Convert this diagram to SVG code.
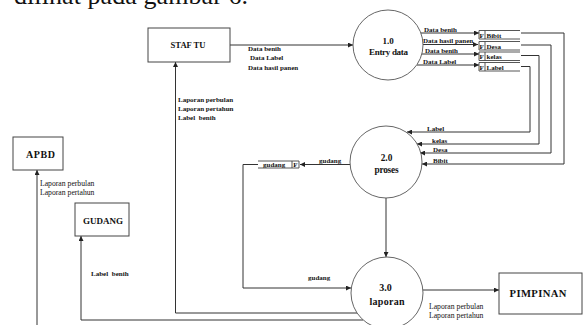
<svg xmlns="http://www.w3.org/2000/svg" width="584" height="325" viewBox="0 0 584 325">
  <style>
    .box { fill: #fff; stroke: #444; stroke-width: 1; }
    .proc { fill: #fff; stroke: #555; stroke-width: 0.9; }
    .flow { fill: none; stroke: #333; stroke-width: 1; }
    .store { fill: none; stroke: #444; stroke-width: 0.9; }
    .t { font-family: "Liberation Serif", "Times New Roman", serif; fill: #111; }
    .lbl { font-size: 7px; font-weight: bold; }
    .lblr { font-size: 7.7px; }
    .name { font-weight: bold; text-anchor: middle; }
    .pt { font-weight: bold; text-anchor: middle; }
  </style>
  <defs>
    <marker id="arrow" markerUnits="userSpaceOnUse" markerWidth="6" markerHeight="5" refX="5" refY="2.5" orient="auto">
      <path d="M0,0 L5,2.5 L0,5 z" fill="#222"/>
    </marker>
  </defs>
  <rect width="584" height="325" fill="#fff"/>

  <!-- paragraph line above the figure -->
  <text class="t" x="14" y="4" font-size="26" textLength="234">dilihat pada gambar 6.</text>

  <!-- connectors -->
  <g id="connectors">
    <!-- STAF TU to 1.0 -->
    <line class="flow" x1="230" y1="45" x2="353" y2="45" marker-end="url(#arrow)"/>
    <!-- 1.0 to stores -->
    <line class="flow" x1="421" y1="33" x2="479" y2="33" marker-end="url(#arrow)"/>
    <line class="flow" x1="423" y1="44.5" x2="478" y2="44.5" marker-end="url(#arrow)"/>
    <line class="flow" x1="422" y1="54" x2="479" y2="54" marker-end="url(#arrow)"/>
    <line class="flow" x1="417" y1="65" x2="479" y2="65" marker-end="url(#arrow)"/>
    <!-- stores to 2.0 -->
    <polyline class="flow" points="521,33 564,33 564,164 422,164" marker-end="url(#arrow)"/>
    <polyline class="flow" points="521,45 551,45 551,153 420,153" marker-end="url(#arrow)"/>
    <polyline class="flow" points="521,55.5 539,55.5 539,144 417,144" marker-end="url(#arrow)"/>
    <polyline class="flow" points="521,66.5 530,66.5 530,132 407,132" marker-end="url(#arrow)"/>
    <!-- 2.0 to gudang store -->
    <line class="flow" x1="350" y1="164.5" x2="300" y2="164.5" marker-end="url(#arrow)"/>
    <!-- gudang store to 3.0 -->
    <polyline class="flow" points="258,164.5 243,164.5 243,288 351,288" marker-end="url(#arrow)"/>
    <!-- 2.0 to 3.0 -->
    <line class="flow" x1="386" y1="198" x2="386" y2="257" marker-end="url(#arrow)"/>
    <!-- 3.0 to PIMPINAN -->
    <line class="flow" x1="423" y1="290" x2="499" y2="290" marker-end="url(#arrow)"/>
    <!-- 3.0 to STAF TU -->
    <polyline class="flow" points="357,313 175.5,313 175.5,62" marker-end="url(#arrow)"/>
    <!-- 3.0 to GUDANG -->
    <polyline class="flow" points="363,320 81,320 81,236" marker-end="url(#arrow)"/>
    <!-- to APBD -->
    <line class="flow" x1="37" y1="325" x2="37" y2="170" marker-end="url(#arrow)"/>
  </g>

  <!-- connector labels -->
  <g id="flow-labels" class="t" opacity="0.99">
    <text class="lbl" x="248" y="50.5">Data benih</text>
    <text class="lbl" x="250" y="60">Data Label</text>
    <text class="lbl" x="248" y="69.5">Data hasil panen</text>

    <text class="lbl" x="424" y="32">Data benih</text>
    <text class="lbl" x="423" y="43">Data hasil panen</text>
    <text class="lbl" x="425" y="52.5">Data benih</text>
    <text class="lbl" x="423" y="63.5">Data Label</text>

    <text class="lbl" x="427" y="131">Label</text>
    <text class="lbl" x="432" y="142.5">kelas</text>
    <text class="lbl" x="433" y="151.5">Desa</text>
    <text class="lbl" x="433" y="162.5">Bibit</text>

    <text class="lbl" x="319" y="162.5">gudang</text>
    <text class="lbl" x="308" y="280">gudang</text>

    <text class="lbl" x="178" y="101.5">Laporan perbulan</text>
    <text class="lbl" x="178" y="111">Laporan pertahun</text>
    <text class="lbl" x="178" y="119.5" word-spacing="2">Label benih</text>

    <text class="lblr" x="40" y="185.5">Laporan perbulan</text>
    <text class="lblr" x="40" y="194.5">Laporan pertahun</text>

    <text class="lbl" x="91" y="275.5" word-spacing="2">Label benih</text>

    <text class="lblr" x="429" y="309">Laporan perbulan</text>
    <text class="lblr" x="429" y="318">Laporan pertahun</text>
  </g>

  <!-- external entities -->
  <g id="staf-tu">
    <rect class="box" x="148" y="28" width="82" height="34"/>
    <text class="t name" x="188" y="48" font-size="8.6" textLength="35">STAF TU</text>
  </g>
  <g id="apbd">
    <rect class="box" x="13" y="137" width="50" height="33"/>
    <text class="t name" x="40.5" y="158" font-size="10" textLength="29">APBD</text>
  </g>
  <g id="gudang">
    <rect class="box" x="75" y="203" width="54" height="33"/>
    <text class="t name" x="103" y="224" font-size="9" textLength="40">GUDANG</text>
  </g>
  <g id="pimpinan">
    <rect class="box" x="499" y="273" width="83" height="41"/>
    <text class="t name" x="538" y="297" font-size="10.6" textLength="57">PIMPINAN</text>
  </g>

  <!-- processes -->
  <g id="p1">
    <circle class="proc" cx="388" cy="45" r="35"/>
    <text class="t pt" x="388" y="44" font-size="9">1.0</text>
    <text class="t pt" x="388.5" y="55" font-size="9" textLength="39">Entry data</text>
  </g>
  <g id="p2">
    <circle class="proc" cx="386" cy="162" r="36"/>
    <text class="t pt" x="386.5" y="160.5" font-size="9.3">2.0</text>
    <text class="t pt" x="386.5" y="172.5" font-size="9.3" textLength="24">proses</text>
  </g>
  <g id="p3">
    <circle class="proc" cx="387" cy="293" r="36"/>
    <text class="t pt" x="385.5" y="291" font-size="10">3.0</text>
    <text class="t pt" x="387" y="305" font-size="10" textLength="35">laporan</text>
  </g>

  <!-- data stores -->
  <g id="store-bibit">
    <path class="store" d="M520,30.5 H479 V39 H520 M485,30.5 V39"/>
    <text class="t lbl" x="479.6" y="37.5">F</text>
    <text class="t lbl" x="486.5" y="37.5">Bibit</text>
  </g>
  <g id="store-desa">
    <path class="store" d="M520,41.5 H479 V50 H520 M485,41.5 V50"/>
    <text class="t lbl" x="479.6" y="48.5">F</text>
    <text class="t lbl" x="486.5" y="48.5">Desa</text>
  </g>
  <g id="store-kelas">
    <path class="store" d="M520,52 H479 V60.5 H520 M485,52 V60.5"/>
    <text class="t lbl" x="479.6" y="59">F</text>
    <text class="t lbl" x="486.5" y="59">kelas</text>
  </g>
  <g id="store-label">
    <path class="store" d="M520,62.5 H479 V71 H520 M485,62.5 V71"/>
    <text class="t lbl" x="479.6" y="69.5">F</text>
    <text class="t lbl" x="486.5" y="69.5">Label</text>
  </g>
  <g id="store-gudang">
    <path class="store" d="M258,161 H299 V168 H258 M292,161 V168"/>
    <text class="t lbl" x="263" y="166.5">gudang</text>
    <text class="t lbl" x="293.3" y="166.5">F</text>
  </g>
</svg>
